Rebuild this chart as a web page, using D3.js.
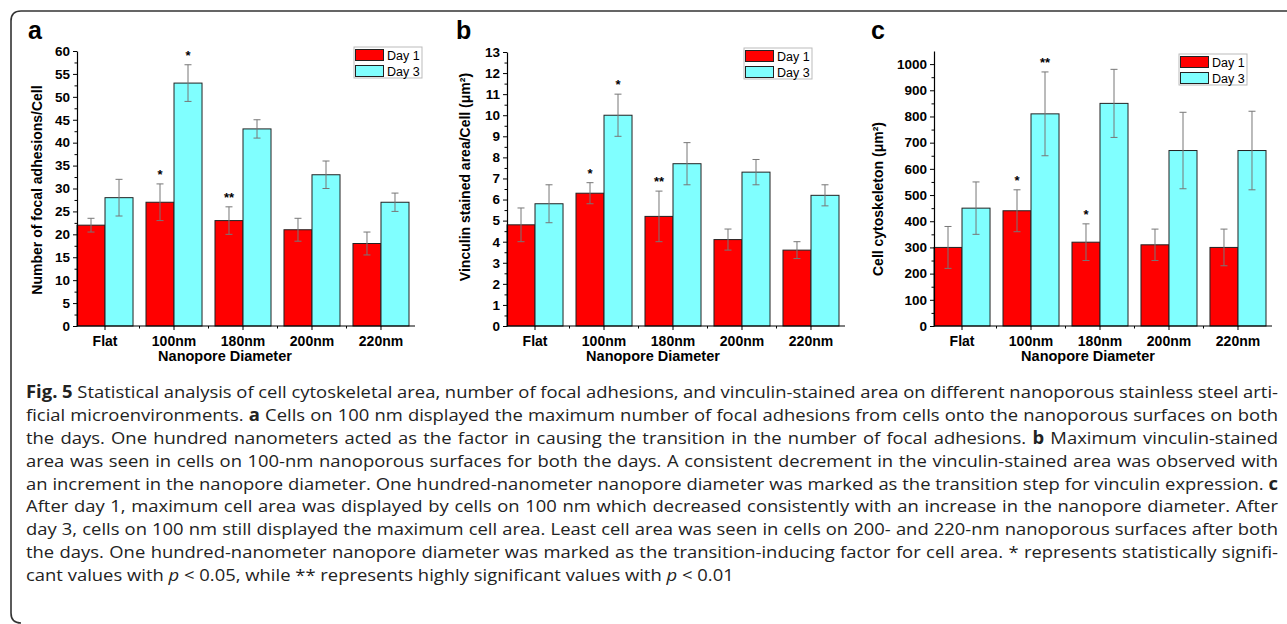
<!DOCTYPE html>
<html>
<head>
<meta charset="utf-8">
<script src="https://cdn.jsdelivr.net/npm/d3@7"></script>
<style>
  body { margin: 0; background: #fff; }
  svg text { font-family: "Liberation Sans", Arial, sans-serif; }
</style>
</head>
<body>
<div id="chart"></div>
<script>
// ---- data ----
var categories = ["Flat", "100nm", "180nm", "200nm", "220nm"];
var seriesNames = ["Day 1", "Day 3"];

// a: number of focal adhesions / cell
var focalDay1 = [22, 27, 23, 21, 18];
var focalDay1Err = [1.5, 4, 3, 2.5, 2.5];
var focalDay3 = [28, 53, 43, 33, 27];
var focalDay3Err = [4, 4, 2, 3, 2];
var focalStars1 = ["", "*", "**", "", ""];
var focalStars3 = ["", "*", "", "", ""];
var focalTicks = [0, 5, 10, 15, 20, 25, 30, 35, 40, 45, 50, 55, 60];

// b: vinculin stained area / cell
var vincDay1 = [4.8, 6.3, 5.2, 4.1, 3.6];
var vincDay1Err = [0.8, 0.5, 1.2, 0.5, 0.4];
var vincDay3 = [5.8, 10, 7.7, 7.3, 6.2];
var vincDay3Err = [0.9, 1, 1, 0.6, 0.5];
var vincStars1 = ["", "*", "**", "", ""];
var vincStars3 = ["", "*", "", "", ""];
var vincTicks = [0, 1, 2, 3, 4, 5, 6, 7, 8, 9, 10, 11, 12, 13];

// c: cell cytoskeleton area
var cytoDay1 = [300, 440, 320, 310, 300];
var cytoDay1Err = [80, 80, 70, 60, 70];
var cytoDay3 = [450, 810, 850, 670, 670];
var cytoDay3Err = [100, 160, 130, 146, 150];
var cytoStars1 = ["", "*", "*", "", ""];
var cytoStars3 = ["", "**", "", "", ""];
var cytoTicks = [0, 100, 200, 300, 400, 500, 600, 700, 800, 900, 1000];

var colors = {"Day 1": "#ff0000", "Day 3": "#80ffff"};

var svg = d3.select("#chart")
  .append("svg")
    .attr("width", 1287)
    .attr("height", 624);

// bracket-like frame round the figure
svg.append("path")
  .attr("d", "M1287,11 H21 Q11,11 11,21 V613 Q11,623 21,623")
  .attr("fill", "none")
  .attr("stroke", "#333")
  .attr("stroke-width", 1.6);

function rows(v1, e1, s1, v3, e3, s3) {
  var out = [];
  categories.forEach(function(c, i) {
    out.push({cat: c, series: "Day 1", value: v1[i], err: e1[i], star: s1[i]});
    out.push({cat: c, series: "Day 3", value: v3[i], err: e3[i], star: s3[i]});
  });
  return out;
}

function drawPanel(opt) {
  var base = 326;
  var g = svg.append("g");

  var y = d3.scaleLinear().domain([0, opt.yMax]).range([base, opt.yTop]);
  var x = d3.scaleBand()
    .domain(categories)
    .range([opt.x0, opt.x0 + 332])
    .paddingInner(0.188)
    .paddingOuter(0);
  var xs = d3.scaleBand().domain(seriesNames).range([0, x.bandwidth()]);

  var data = opt.data;

  // bars
  g.selectAll("rect.bar")
    .data(data)
    .enter()
    .append("rect")
      .attr("class", "bar")
      .attr("x", function(d) { return x(d.cat) + xs(d.series); })
      .attr("y", function(d) { return y(d.value); })
      .attr("width", xs.bandwidth())
      .attr("height", function(d) { return base - y(d.value); })
      .attr("fill", function(d) { return colors[d.series]; })
      .attr("stroke", "#222")
      .attr("stroke-width", 1);

  // error bars
  var eb = g.selectAll("g.err")
    .data(data)
    .enter()
    .append("g")
      .attr("class", "err")
      .attr("transform", function(d) { return "translate(" + (x(d.cat) + xs(d.series) + xs.bandwidth() / 2) + ",0)"; })
      .attr("stroke", "#777")
      .attr("stroke-width", 1);
  eb.append("line")
    .attr("y1", function(d) { return y(d.value - d.err); })
    .attr("y2", function(d) { return y(d.value + d.err); });
  eb.append("line")
    .attr("x1", -3.5).attr("x2", 3.5)
    .attr("y1", function(d) { return y(d.value + d.err); })
    .attr("y2", function(d) { return y(d.value + d.err); });
  eb.append("line")
    .attr("x1", -3.5).attr("x2", 3.5)
    .attr("y1", function(d) { return y(d.value - d.err); })
    .attr("y2", function(d) { return y(d.value - d.err); });

  // significance stars
  g.selectAll("text.star")
    .data(data.filter(function(d) { return d.star; }))
    .enter()
    .append("text")
      .attr("class", "star")
      .attr("x", function(d) { return x(d.cat) + xs(d.series) + xs.bandwidth() / 2; })
      .attr("y", function(d) { return y(d.value + d.err) - 5; })
      .attr("text-anchor", "middle")
      .style("font-size", "13px")
      .style("font-weight", "bold")
      .text(function(d) { return d.star; });

  // y axis: major + minor ticks
  var step = opt.ticks[1] - opt.ticks[0];
  var minor = [];
  for (var i = 0; i < opt.ticks.length; i++) {
    var m = opt.ticks[i] + step / 2;
    if (m < opt.yMax) minor.push(m);
  }
  var yAxis = g.append("g")
    .attr("transform", "translate(" + opt.x0 + ",0)")
    .call(d3.axisLeft(y).tickValues(opt.ticks).tickSize(4).tickSizeOuter(0)
      .tickPadding(3).tickFormat(d3.format("d")));
  yAxis.selectAll("text")
    .style("font-size", "13.5px")
    .style("font-weight", "bold")
    .attr("fill", "#000");
  yAxis.select(".domain").attr("stroke", "#000").attr("stroke-width", 1.2);
  g.append("g")
    .attr("transform", "translate(" + opt.x0 + ",0)")
    .call(d3.axisLeft(y).tickValues(minor).tickSize(2.5).tickFormat(""))
    .select(".domain").remove();

  // x axis
  var xAxis = g.append("g")
    .attr("transform", "translate(0," + base + ")")
    .call(d3.axisBottom(x).tickSize(4).tickSizeOuter(0).tickPadding(6));
  xAxis.select(".domain").remove();
  xAxis.selectAll("text")
    .style("font-size", "14px")
    .style("font-weight", "bold")
    .attr("fill", "#000");
  g.append("line")
    .attr("x1", opt.x0).attr("x2", opt.x0 + 338)
    .attr("y1", base).attr("y2", base)
    .attr("stroke", "#000").attr("stroke-width", 1.2);
  var gap = x.step() - x.bandwidth();
  g.selectAll("line.minx")
    .data(categories.slice(0, categories.length - 1))
    .enter()
    .append("line")
      .attr("class", "minx")
      .attr("x1", function(d) { return x(d) + x.bandwidth() + gap / 2; })
      .attr("x2", function(d) { return x(d) + x.bandwidth() + gap / 2; })
      .attr("y1", base).attr("y2", base + 2.5)
      .attr("stroke", "#000");

  // axis titles
  g.append("text")
    .attr("x", opt.xTitleX)
    .attr("y", 361)
    .attr("text-anchor", "middle")
    .style("font-size", "14.5px")
    .style("font-weight", "bold")
    .text("Nanopore Diameter");
  g.append("text")
    .attr("transform", "translate(" + opt.yTitleX + "," + opt.yTitleY + ") rotate(-90)")
    .attr("text-anchor", "middle")
    .style("font-size", "14px")
    .style("font-weight", "bold")
    .text(opt.yTitle);

  // panel letter
  g.append("text")
    .attr("x", opt.letterX)
    .attr("y", 39)
    .style("font-size", "25px")
    .style("font-weight", "bold")
    .text(opt.letter);

  // legend
  var lg = g.append("g").attr("transform", "translate(" + opt.legX + "," + opt.legY + ")");
  lg.append("rect")
    .attr("width", 68).attr("height", 31)
    .attr("fill", "#fff")
    .attr("stroke", "#bbb");
  seriesNames.forEach(function(s, i) {
    lg.append("rect")
      .attr("x", 1.5).attr("y", 2.5 + i * 16)
      .attr("width", 28).attr("height", 11)
      .attr("fill", colors[s])
      .attr("stroke", "#222");
    lg.append("text")
      .attr("x", 33).attr("y", 12.5 + i * 16)
      .style("font-size", "12.5px")
      .text(s);
  });
}

drawPanel({
  letter: "a", letterX: 28, x0: 77, yMax: 60, yTop: 51, ticks: focalTicks,
  data: rows(focalDay1, focalDay1Err, focalStars1, focalDay3, focalDay3Err, focalStars3),
  yTitle: "Number of focal adhesions/Cell", yTitleX: 42, yTitleY: 190,
  xTitleX: 225, legX: 354, legY: 47
});
drawPanel({
  letter: "b", letterX: 456, x0: 507, yMax: 13, yTop: 52, ticks: vincTicks,
  data: rows(vincDay1, vincDay1Err, vincStars1, vincDay3, vincDay3Err, vincStars3),
  yTitle: "Vinculin stained area/Cell (\u03bcm\u00b2)", yTitleX: 470, yTitleY: 177,
  xTitleX: 653, legX: 744, legY: 48
});
drawPanel({
  letter: "c", letterX: 871, x0: 934, yMax: 1050, yTop: 51, ticks: cytoTicks,
  data: rows(cytoDay1, cytoDay1Err, cytoStars1, cytoDay3, cytoDay3Err, cytoStars3),
  yTitle: "Cell cytoskeleton (\u03bcm\u00b2)", yTitleX: 883, yTitleY: 199,
  xTitleX: 1088, legX: 1179, legY: 54
});

// ---- caption ----
var captionLines = [
  [["Fig. 5", "b"], [" Statistical analysis of cell cytoskeletal area, number of focal adhesions, and vinculin-stained area on different nanoporous stainless steel arti-"]],
  [["ficial microenvironments. "], ["a", "b"], [" Cells on 100 nm displayed the maximum number of focal adhesions from cells onto the nanoporous surfaces on both"]],
  [["the days. One hundred nanometers acted as the factor in causing the transition in the number of focal adhesions. "], ["b", "b"], [" Maximum vinculin-stained"]],
  [["area was seen in cells on 100-nm nanoporous surfaces for both the days. A consistent decrement in the vinculin-stained area was observed with"]],
  [["an increment in the nanopore diameter. One hundred-nanometer nanopore diameter was marked as the transition step for vinculin expression. "], ["c", "b"]],
  [["After day 1, maximum cell area was displayed by cells on 100 nm which decreased consistently with an increase in the nanopore diameter. After"]],
  [["day 3, cells on 100 nm still displayed the maximum cell area. Least cell area was seen in cells on 200- and 220-nm nanoporous surfaces after both"]],
  [["the days. One hundred-nanometer nanopore diameter was marked as the transition-inducing factor for cell area. * represents statistically signifi-"]],
  [["cant values with "], ["p", "i"], [" < 0.05, while ** represents highly significant values with "], ["p", "i"], [" < 0.01"]]
];

var capLeft = 26, capRight = 1278, capTop = 398, capStep = 22.9;
var cap = svg.append("g").attr("fill", "#222");
var capTexts = captionLines.map(function(line, i) {
  var t = cap.append("text")
    .attr("x", 0)
    .attr("y", capTop + i * capStep)
    .style("font-family", "'Open Sans', 'Noto Sans', sans-serif")
    .style("font-size", "17px");
  line.forEach(function(seg) {
    var ts = t.append("tspan").text(seg[0]);
    if (seg[1] === "b") ts.style("font-weight", "bold");
    if (seg[1] === "i") ts.style("font-style", "italic");
  });
  return t;
});

// Myriad-like narrow setting: squeeze horizontally so the last (ragged) line has
// the reference width, then justify the other lines with word spacing
var lastLen = capTexts[capTexts.length - 1].node().getComputedTextLength();
var sx = 708 / lastLen;
cap.attr("transform", "translate(" + capLeft + ",0) scale(" + sx + ",1)");
capTexts.forEach(function(t, i) {
  if (i === capTexts.length - 1) return;
  var len = t.node().getComputedTextLength();
  var spaces = (t.text().match(/ /g) || []).length;
  t.style("word-spacing", (((capRight - capLeft) / sx - len) / spaces) + "px");
});
</script>
</body>
</html>
